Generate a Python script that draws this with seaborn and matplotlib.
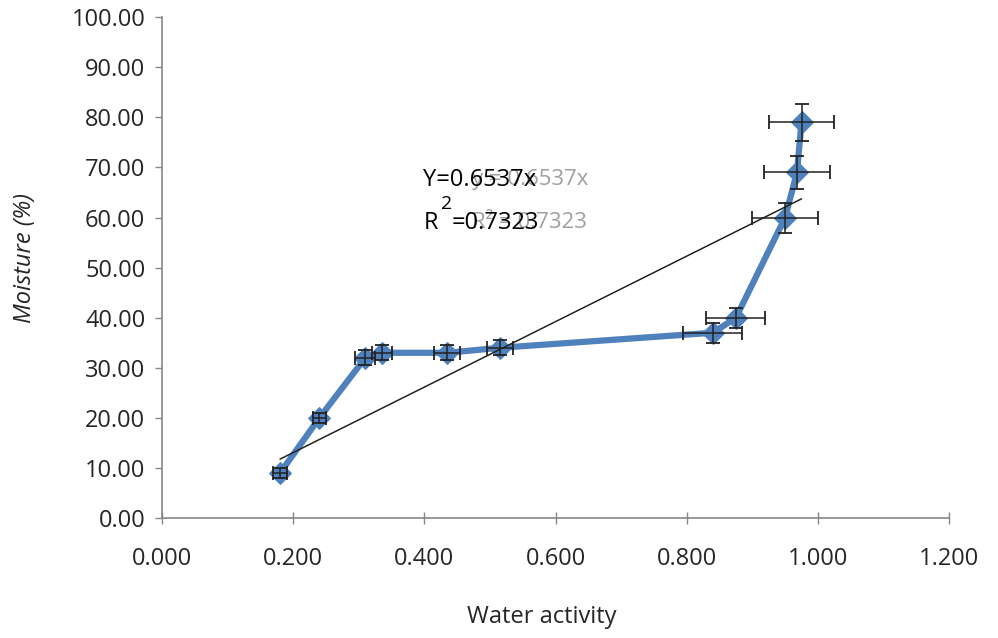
import numpy as np
import pandas as pd
import matplotlib
matplotlib.use('Agg')
import matplotlib.pyplot as plt
import seaborn as sns

# data
water_activity = [0.18, 0.24, 0.31, 0.335, 0.435, 0.515, 0.84, 0.875, 0.95, 0.968, 0.975]
moisture = [9.0, 20.0, 32.0, 33.0, 33.0, 34.0, 37.0, 40.0, 60.0, 69.0, 79.0]
aw_err = [0.01, 0.01, 0.015, 0.015, 0.02, 0.02, 0.045, 0.045, 0.05, 0.05, 0.05]
moist_err = [1.0, 1.0, 1.5, 1.5, 1.5, 1.5, 2.0, 2.0, 3.0, 3.2, 3.7]
trend_slope = 65.37
eq_text = 'Y=0.6537x'
r2_value = '0.7323'
xticks = [0.0, 0.2, 0.4, 0.6, 0.8, 1.0, 1.2]
yticks = [0, 10, 20, 30, 40, 50, 60, 70, 80, 90, 100]

df = pd.DataFrame({'aw': water_activity, 'moisture': moisture})

sns.set_style('ticks')
plt.rcParams['font.family'] = ['Open Sans', 'DejaVu Sans']

fig = plt.figure(figsize=(9.98, 6.38), dpi=100)
ax = fig.add_axes([0.1623, 0.188, 0.7887, 0.785])

blue = '#4F81BD'
sns.lineplot(data=df, x='aw', y='moisture', sort=False, ax=ax, color=blue,
             linewidth=4.5, marker='D', markersize=11, markeredgecolor=blue, zorder=2)
ax.errorbar(water_activity, moisture, xerr=aw_err, yerr=moist_err, fmt='none',
            ecolor='#222222', elinewidth=1.1, capsize=5, capthick=1.3, zorder=3)

# trend line through origin
xs = np.array([min(water_activity), max(water_activity)])
ax.plot(xs, trend_slope * xs, color='#222222', lw=1.1, zorder=4)

ax.set_xlim(0, 1.2)
ax.set_ylim(0, 100)
ax.set_xticks(xticks)
ax.set_xticklabels(['%.3f' % t for t in xticks], fontsize=17)
ax.set_yticks(yticks)
ax.set_yticklabels(['%.2f' % t for t in yticks], fontsize=17)
ax.tick_params(axis='x', direction='inout', length=8, width=1, color='#888888', pad=17)
ax.tick_params(axis='y', direction='out', length=5, width=1, color='#888888', pad=7)
for s in ['top', 'right']:
    ax.spines[s].set_visible(False)
for s in ['left', 'bottom']:
    ax.spines[s].set_color('#888888')
    ax.spines[s].set_linewidth(1.2)

ax.set_xlabel('')
ax.set_ylabel('')
fig.text(0.543, 1 - 617 / 638, 'Water activity', fontsize=17, ha='center', va='center')
fig.text(0.025, 1 - 258 / 638, 'Moisture (%)', fontsize=17, style='italic',
         rotation=90, ha='center', va='center')

# trendline equation (with the faded duplicate seen in the reference)
ax.text(0.394, 0.675, 'y = 0.6537x', transform=ax.transAxes, fontsize=16,
        color='#a0a0a0', ha='left', va='center', zorder=5)
ax.text(0.394, 0.59, 'R² = ' + r2_value, transform=ax.transAxes, fontsize=16,
        color='#a0a0a0', ha='left', va='center', zorder=5)
ax.text(0.332, 0.675, eq_text, transform=ax.transAxes, fontsize=17,
        color='black', ha='left', va='center', zorder=6)
ax.text(0.332, 0.59, 'R', transform=ax.transAxes, fontsize=17,
        color='black', ha='left', va='center', zorder=6)
ax.text(0.355, 0.628, '2', transform=ax.transAxes, fontsize=14,
        color='black', ha='left', va='center', zorder=6)
ax.text(0.368, 0.59, '=' + r2_value, transform=ax.transAxes, fontsize=17,
        color='black', ha='left', va='center', zorder=6)

fig.savefig('out.png', dpi=100)
